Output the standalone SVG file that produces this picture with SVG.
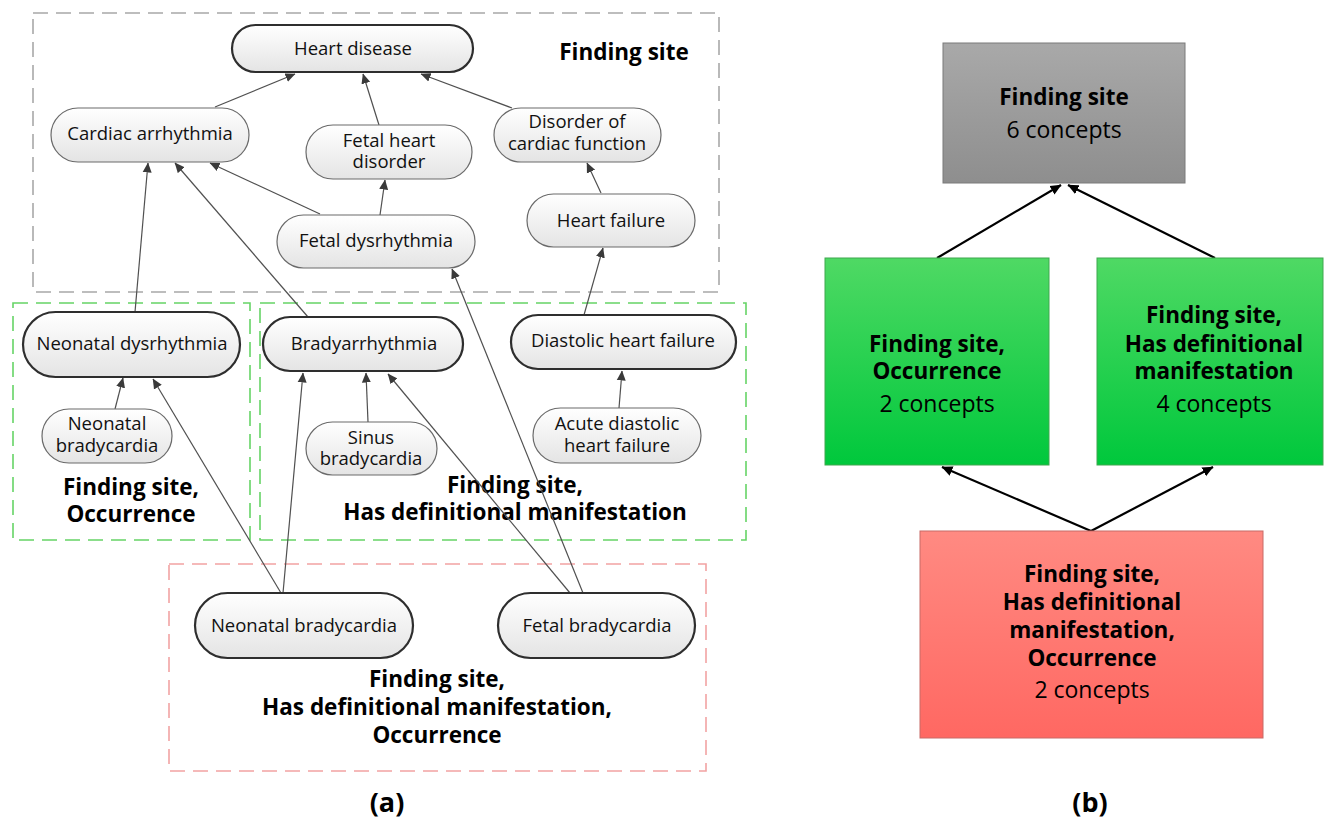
<svg xmlns="http://www.w3.org/2000/svg" width="1324" height="820" viewBox="0 0 1324 820">
  <defs>
    <linearGradient id="pillFill" x1="0" y1="0" x2="0" y2="1">
      <stop offset="0" stop-color="#ffffff"/>
      <stop offset="1" stop-color="#e4e4e4"/>
    </linearGradient>
    <linearGradient id="grayFill" x1="0" y1="0" x2="0" y2="1">
      <stop offset="0" stop-color="#a9a9a9"/>
      <stop offset="1" stop-color="#8e8e8e"/>
    </linearGradient>
    <linearGradient id="greenFill" x1="0" y1="0" x2="0" y2="1">
      <stop offset="0" stop-color="#4fd964"/>
      <stop offset="1" stop-color="#00c83c"/>
    </linearGradient>
    <linearGradient id="redFill" x1="0" y1="0" x2="0" y2="1">
      <stop offset="0" stop-color="#ff8a82"/>
      <stop offset="1" stop-color="#ff6862"/>
    </linearGradient>
    <marker id="arrA" viewBox="0 0 10 10" refX="9.5" refY="5" markerWidth="10" markerHeight="10" markerUnits="userSpaceOnUse" orient="auto">
      <path d="M0,0.5 L10,5 L0,9.5 z" fill="#3a3a3a"/>
    </marker>
    <marker id="arrB" viewBox="0 0 10 10" refX="9.5" refY="5" markerWidth="11" markerHeight="11" markerUnits="userSpaceOnUse" orient="auto">
      <path d="M0,0.5 L10,5 L0,9.5 z" fill="#000"/>
    </marker>
  </defs>
  <style>
    .pill { fill: url(#pillFill); stroke: #6a6a6a; stroke-width: 1.2; }
    .pill.strong { stroke: #2e2e2e; stroke-width: 2.2; }
    .nt { font-family: "Open Sans", "Liberation Sans", sans-serif; font-size: 18.5px; fill: #111; text-anchor: middle; }
    .grp { font-family: "Open Sans", "Liberation Sans", sans-serif; font-size: 22.5px; font-weight: bold; fill: #000; text-anchor: middle; }
    .cnt { font-family: "Open Sans", "Liberation Sans", sans-serif; font-size: 23px; fill: #000; text-anchor: middle; }
    .cap { font-family: "Open Sans", "Liberation Sans", sans-serif; font-size: 27px; font-weight: bold; fill: #000; text-anchor: middle; }
    .frame { fill: none; stroke-width: 1.6; stroke-dasharray: 15 8; }
    .edgeA { stroke: #505050; stroke-width: 1.2; fill: none; marker-end: url(#arrA); }
    .edgeB { stroke: #000; stroke-width: 2.2; fill: none; marker-end: url(#arrB); }
    .box { stroke-width: 1; }
  </style>

  <rect width="1324" height="820" fill="#ffffff"/>

  <!-- (a) group frames -->
  <g id="frames">
    <rect class="frame" x="33" y="13" width="686" height="279" stroke="#a8a8a8"/>
    <rect class="frame" x="13" y="303" width="237" height="237" stroke="#66d466"/>
    <rect class="frame" x="260" y="303" width="486" height="237" stroke="#66d466"/>
    <rect class="frame" x="169" y="564" width="537" height="207" stroke="#f2a3a3"/>
  </g>

  <!-- (a) frame captions -->
  <g id="frame-labels">
    <text class="grp" x="624" y="60">Finding site</text>
    <text class="grp" x="131" y="495">Finding site,</text>
    <text class="grp" x="131" y="522">Occurrence</text>
    <text class="grp" x="515" y="493">Finding site,</text>
    <text class="grp" x="515" y="520">Has definitional manifestation</text>
    <text class="grp" x="437" y="687">Finding site,</text>
    <text class="grp" x="437" y="715">Has definitional manifestation,</text>
    <text class="grp" x="437" y="743">Occurrence</text>
  </g>

  <!-- (a) is-a connectors -->
  <g id="connectors-a">
    <line class="edgeA" x1="215" y1="107" x2="295" y2="74"/>
    <line class="edgeA" x1="379" y1="125" x2="363" y2="74"/>
    <line class="edgeA" x1="512" y1="108" x2="421" y2="74"/>
    <line class="edgeA" x1="380" y1="215" x2="385" y2="180"/>
    <line class="edgeA" x1="320" y1="214" x2="210" y2="163"/>
    <line class="edgeA" x1="601" y1="193" x2="587" y2="163"/>
    <line class="edgeA" x1="135" y1="312" x2="148" y2="163"/>
    <line class="edgeA" x1="308" y1="317" x2="175" y2="163"/>
    <line class="edgeA" x1="584" y1="315" x2="603" y2="248"/>
    <line class="edgeA" x1="115" y1="409" x2="123" y2="378"/>
    <line class="edgeA" x1="368" y1="422" x2="366" y2="373"/>
    <line class="edgeA" x1="619" y1="408" x2="622" y2="371"/>
    <line class="edgeA" x1="281" y1="593" x2="153" y2="379"/>
    <line class="edgeA" x1="283" y1="593" x2="303" y2="373"/>
    <line class="edgeA" x1="570" y1="593" x2="388" y2="374"/>
    <line class="edgeA" x1="583" y1="593" x2="452" y2="269"/>
  </g>

  <!-- (a) concept nodes -->
  <g id="heart-disease">
    <rect class="pill strong" x="232" y="25" width="241" height="47" rx="23.5"/>
    <text class="nt" x="353" y="55">Heart disease</text>
  </g>
  <g id="cardiac-arrhythmia">
    <rect class="pill" x="51" y="108" width="198" height="54" rx="27"/>
    <text class="nt" x="150" y="140">Cardiac arrhythmia</text>
  </g>
  <g id="fetal-heart-disorder">
    <rect class="pill" x="306" y="125" width="166" height="54" rx="27"/>
    <text class="nt" x="389" y="147">Fetal heart</text>
    <text class="nt" x="389" y="168">disorder</text>
  </g>
  <g id="disorder-of-cardiac-function">
    <rect class="pill" x="494" y="108" width="167" height="54" rx="27"/>
    <text class="nt" x="577" y="128">Disorder of</text>
    <text class="nt" x="577" y="150">cardiac function</text>
  </g>
  <g id="heart-failure">
    <rect class="pill" x="527" y="194" width="168" height="53" rx="26.5"/>
    <text class="nt" x="611" y="227">Heart failure</text>
  </g>
  <g id="fetal-dysrhythmia">
    <rect class="pill" x="277" y="215" width="198" height="53" rx="26.5"/>
    <text class="nt" x="376" y="247">Fetal dysrhythmia</text>
  </g>
  <g id="neonatal-dysrhythmia">
    <rect class="pill strong" x="23" y="312" width="217" height="65" rx="32.5"/>
    <text class="nt" x="132" y="350">Neonatal dysrhythmia</text>
  </g>
  <g id="neonatal-bradycardia-small">
    <rect class="pill" x="42" y="409" width="130" height="54" rx="27"/>
    <text class="nt" x="107" y="430">Neonatal</text>
    <text class="nt" x="107" y="452">bradycardia</text>
  </g>
  <g id="bradyarrhythmia">
    <rect class="pill strong" x="263" y="317" width="200" height="54" rx="27"/>
    <text class="nt" x="364" y="350">Bradyarrhythmia</text>
  </g>
  <g id="sinus-bradycardia">
    <rect class="pill" x="306" y="422" width="131" height="53" rx="26.5"/>
    <text class="nt" x="371" y="444">Sinus</text>
    <text class="nt" x="371" y="465">bradycardia</text>
  </g>
  <g id="diastolic-heart-failure">
    <rect class="pill strong" x="511" y="315" width="225" height="54" rx="27"/>
    <text class="nt" x="623" y="347">Diastolic heart failure</text>
  </g>
  <g id="acute-diastolic-heart-failure">
    <rect class="pill" x="533" y="408" width="168" height="55" rx="27.5"/>
    <text class="nt" x="617" y="430">Acute diastolic</text>
    <text class="nt" x="617" y="452">heart failure</text>
  </g>
  <g id="neonatal-bradycardia">
    <rect class="pill strong" x="195" y="593" width="218" height="65" rx="32.5"/>
    <text class="nt" x="304" y="632">Neonatal bradycardia</text>
  </g>
  <g id="fetal-bradycardia">
    <rect class="pill strong" x="498" y="593" width="197" height="65" rx="32.5"/>
    <text class="nt" x="597" y="632">Fetal bradycardia</text>
  </g>

  <!-- (b) connectors between area boxes -->
  <g id="connectors-b">
    <line class="edgeB" x1="937" y1="258" x2="1061" y2="185"/>
    <line class="edgeB" x1="1215" y1="258" x2="1068" y2="185"/>
    <line class="edgeB" x1="1091" y1="531" x2="942" y2="467"/>
    <line class="edgeB" x1="1091" y1="531" x2="1213" y2="467"/>
  </g>

  <!-- (b) area boxes -->
  <g id="area-finding-site">
    <rect class="box" x="943" y="43" width="242" height="140" fill="url(#grayFill)" stroke="#7a7a7a"/>
    <text class="grp" x="1064" y="105">Finding site</text>
    <text class="cnt" x="1064" y="138">6 concepts</text>
  </g>
  <g id="area-fs-occurrence">
    <rect class="box" x="825" y="258" width="224" height="207" fill="url(#greenFill)" stroke="#3fa84f"/>
    <text class="grp" x="937" y="352">Finding site,</text>
    <text class="grp" x="937" y="379">Occurrence</text>
    <text class="cnt" x="937" y="412">2 concepts</text>
  </g>
  <g id="area-fs-manifestation">
    <rect class="box" x="1097" y="258" width="226" height="207" fill="url(#greenFill)" stroke="#3fa84f"/>
    <text class="grp" x="1214" y="323">Finding site,</text>
    <text class="grp" x="1214" y="352">Has definitional</text>
    <text class="grp" x="1214" y="379">manifestation</text>
    <text class="cnt" x="1214" y="412">4 concepts</text>
  </g>
  <g id="area-fs-manifestation-occurrence">
    <rect class="box" x="920" y="531" width="343" height="207" fill="url(#redFill)" stroke="#c86a66"/>
    <text class="grp" x="1092" y="582">Finding site,</text>
    <text class="grp" x="1092" y="610">Has definitional</text>
    <text class="grp" x="1092" y="638">manifestation,</text>
    <text class="grp" x="1092" y="666">Occurrence</text>
    <text class="cnt" x="1092" y="698">2 concepts</text>
  </g>

  <!-- panel captions -->
  <text class="cap" x="387" y="812">(a)</text>
  <text class="cap" x="1090" y="812">(b)</text>
</svg>
